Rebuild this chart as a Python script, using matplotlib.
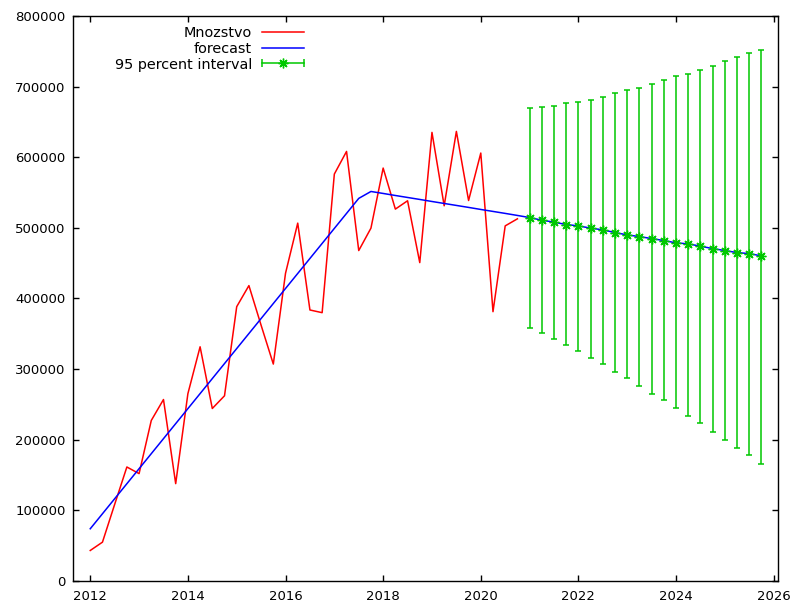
import numpy as np
import matplotlib
matplotlib.use("Agg")
import matplotlib.pyplot as plt
from matplotlib.lines import Line2D
from matplotlib.legend_handler import HandlerBase

# quarterly data, 2012:1 .. 2020:4
mnozstvo = [42600, 54400, 108000, 161000, 151600, 227000, 256700, 137400,
            265000, 331500, 244000, 262000, 388400, 418300, 362000, 307000,
            435800, 506900, 383700, 379900, 576500, 608600, 468000, 499800,
            585000, 526800, 538600, 450900, 635600, 531500, 637000, 539000,
            606300, 381300, 503000, 513000]

# fitted values (in sample) + forecast 2021:1 .. 2025:4
fitted = [73400, 94700, 116000, 137300, 158600, 179900, 201200, 222500,
          243800, 265100, 286400, 307700, 329000, 350300, 371600, 392900,
          414200, 435500, 456800, 478100, 499400, 520700, 542000, 551800,
          549000, 546100, 543300, 540500, 537600, 534800, 532000, 529200,
          526300, 523500, 520700, 517800]
forecast = [514800, 511100, 508300, 504900, 503000, 499800, 497400, 493500,
            490200, 487800, 485000, 482200, 478900, 477500, 474200, 470800,
            468000, 465100, 463700, 460400]
lower = [357700, 350600, 342900, 333900, 325000, 315900, 306500, 295600,
         286600, 275700, 264700, 255400, 244800, 234000, 223100, 210300,
         198900, 188600, 177600, 164800]
upper = [670300, 671100, 673100, 676800, 678800, 682100, 686000, 691600,
         695300, 698700, 704400, 709500, 715200, 719000, 724300, 729400,
         736500, 742200, 747900, 753100]

t_obs = 2012 + 0.25 * np.arange(len(mnozstvo))
t_fc = 2021 + 0.25 * np.arange(len(forecast))

RED, BLUE, GREEN = "#ff0000", "#0000ff", "#00c800"
STAR = (8, 2, 0)


class HandlerInterval(HandlerBase):
    # gnuplot-style legend sample: horizontal bar with caps and a star
    def create_artists(self, legend, orig_handle, xdescent, ydescent,
                       width, height, fontsize, trans):
        y = height / 2 - ydescent
        x0, x1 = -xdescent, width - xdescent
        line = Line2D([x0, x1], [y, y], color=GREEN, lw=1.1, transform=trans)
        caps = Line2D([x0, x1], [y, y], ls="none", marker="|", ms=6,
                      mew=1.1, color=GREEN, transform=trans)
        star = Line2D([(x0 + x1) / 2], [y], ls="none", marker=STAR, ms=7,
                      mew=1, color=GREEN, transform=trans)
        return [line, caps, star]


plt.rcParams["font.family"] = "DejaVu Sans"
plt.rcParams["font.size"] = 9.5

fig = plt.figure(figsize=(7.97, 6.04), dpi=100)
ax = fig.add_axes([0.0912, 0.0389, 0.8853, 0.9338])

l1, = ax.plot(t_obs, mnozstvo, color=RED, lw=1.1, label="Mnozstvo")
l2, = ax.plot(np.concatenate([t_obs, t_fc]), fitted + forecast,
              color=BLUE, lw=1.1, label="forecast")
fc = np.array(forecast)
ax.errorbar(t_fc, fc, yerr=[fc - np.array(lower), np.array(upper) - fc],
            fmt="none", ecolor=GREEN, elinewidth=1.1, capsize=2.5, capthick=1.1)
ax.plot(t_fc, fc, ls="none", marker=STAR, ms=7, mew=1, color=GREEN)
iv = Line2D([], [], color=GREEN, label="95 percent interval")

ax.set_xlim(2011.64, 2026.094)
ax.set_ylim(0, 800000)
ax.set_xticks(range(2012, 2027, 2))
ax.set_yticks(range(0, 800001, 100000))
ax.tick_params(direction="in", length=4.5, width=1, top=True, right=True,
               labelsize=9.5, pad=5)
ax.tick_params(axis="x", pad=7)
for s in ax.spines.values():
    s.set_linewidth(1)

ax.legend(handles=[l1, l2, iv], handler_map={iv: HandlerInterval()},
          loc="upper right", bbox_to_anchor=(0.328, 0.983), frameon=False,
          markerfirst=False, borderpad=0, borderaxespad=0, handlelength=2.9,
          handletextpad=0.7, labelspacing=0.12, fontsize=10.4)

fig.savefig("out.png", dpi=100)
